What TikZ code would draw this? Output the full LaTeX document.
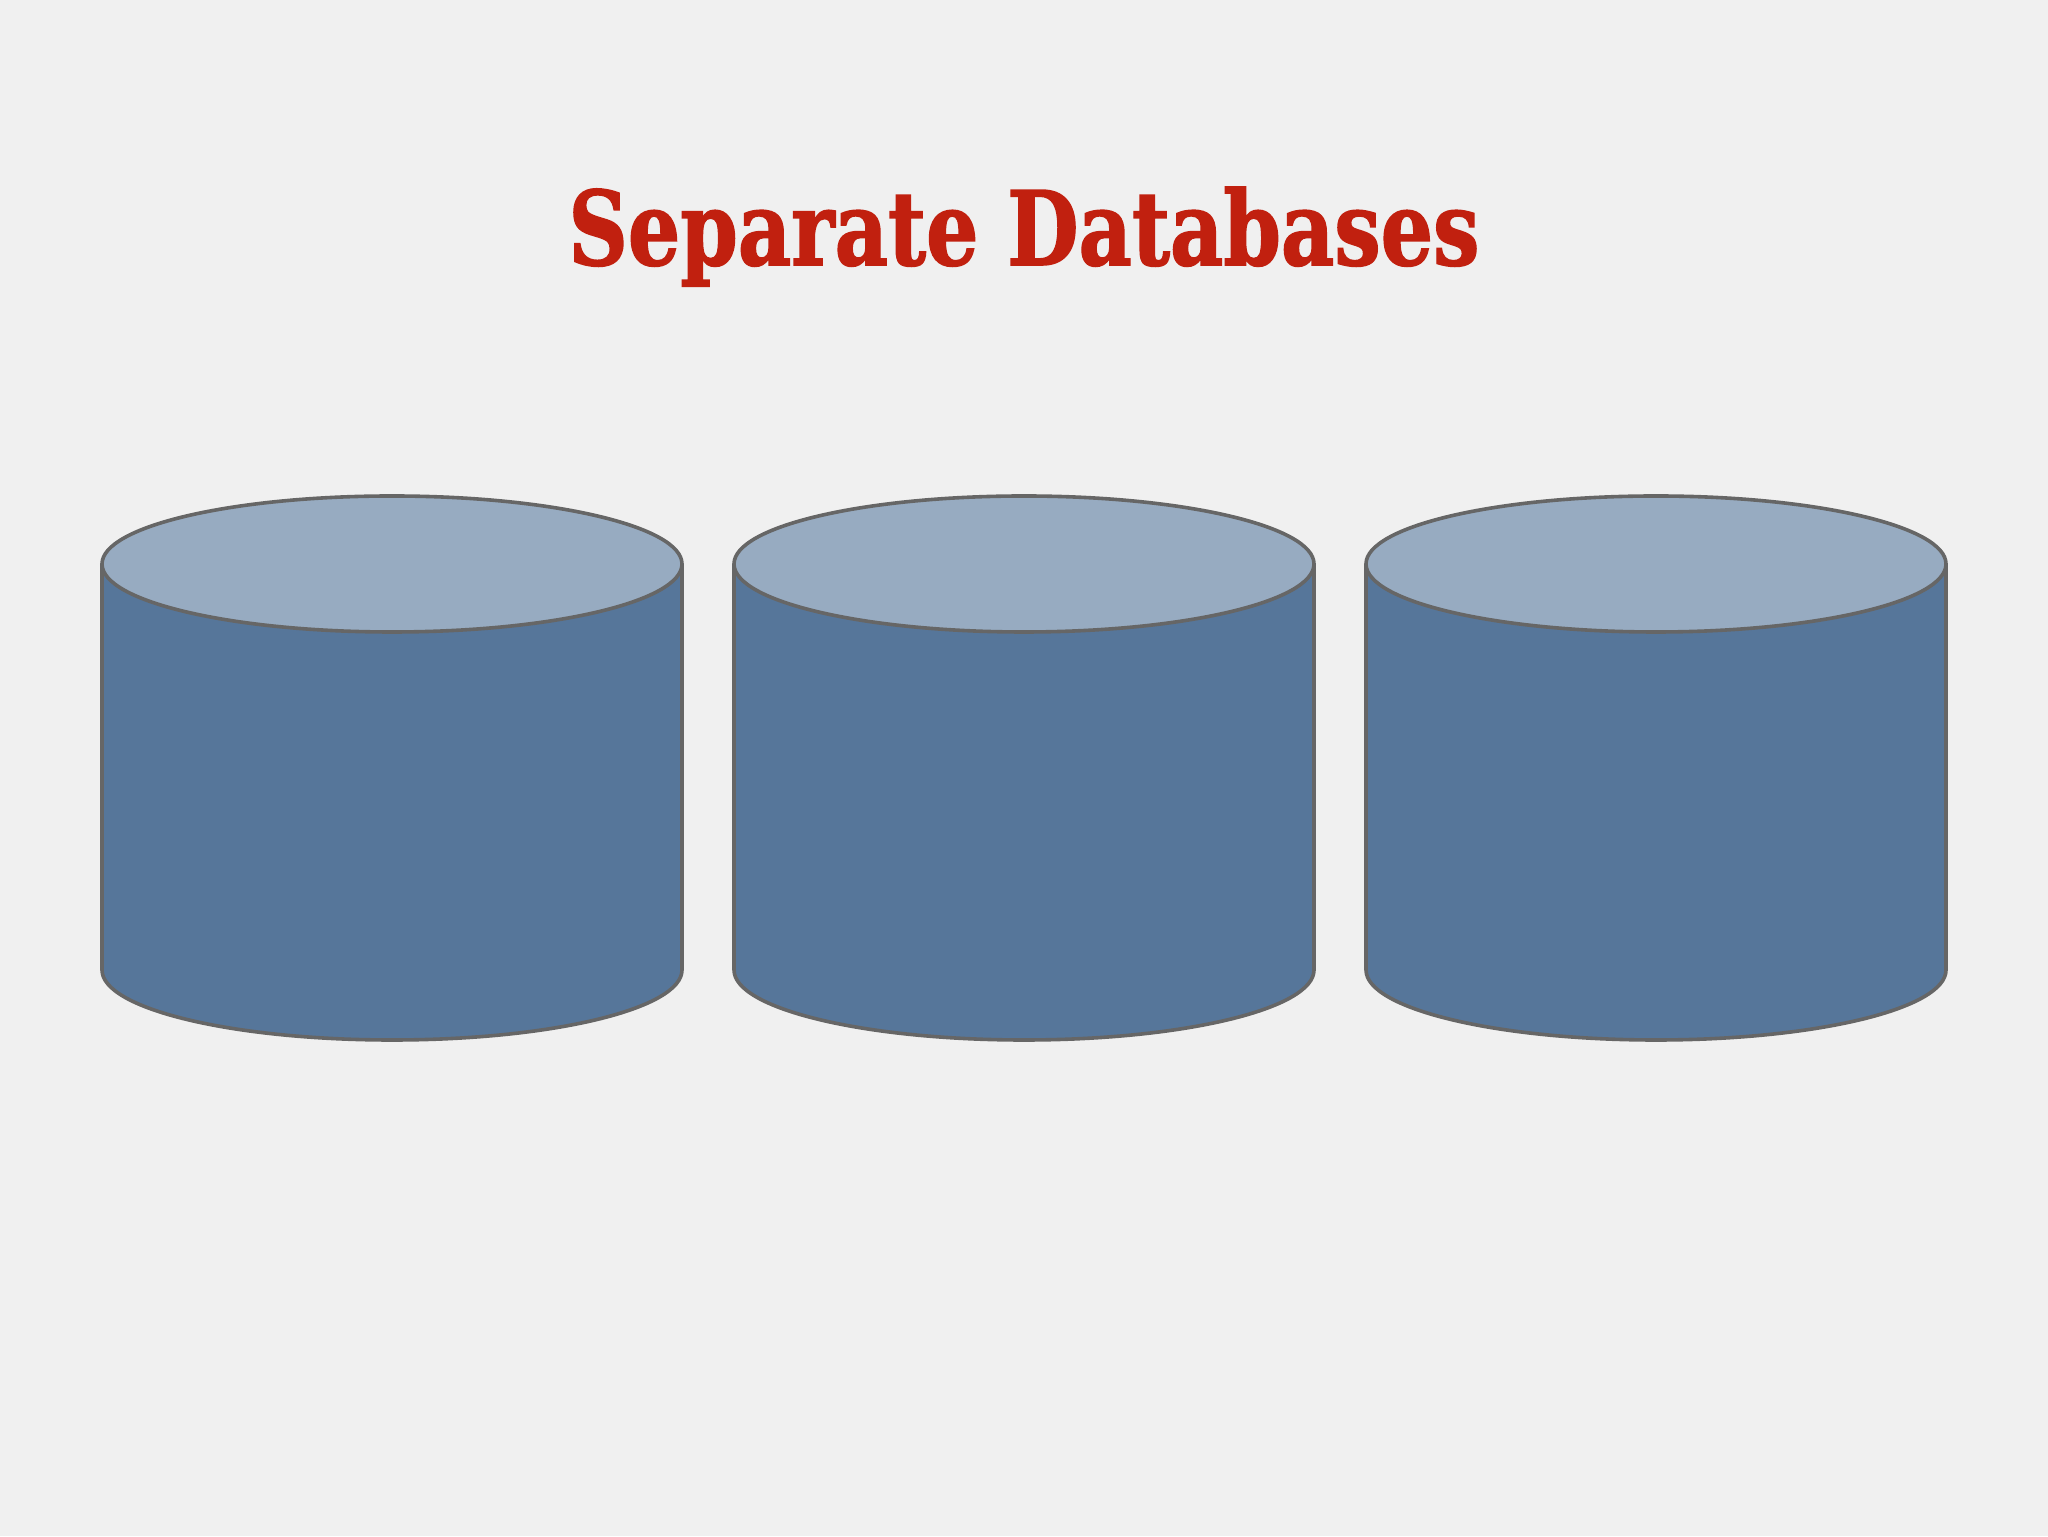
\documentclass[tikz,border=0pt]{standalone}
\usepackage{fontspec}
\usepackage{graphicx}
\newfontfamily\titlefont[BoldFeatures={FakeBold=1.6}]{DejaVu Serif}
\definecolor{bgc}{HTML}{F0F0F0}
\definecolor{bodyc}{HTML}{56769A}
\definecolor{topc}{HTML}{97ABC1}
\definecolor{edgec}{HTML}{666666}
\definecolor{titlec}{HTML}{C1200F}
\tikzset{
  cylbody/.style={fill=bodyc, draw=edgec, line width=1.8pt, line join=round},
  cyltop/.style={fill=topc, draw=edgec, line width=1.8pt},
  titletext/.style={text=titlec, inner sep=0pt, font=\titlefont\bfseries}
}
\begin{document}
\begin{tikzpicture}[x=0.5pt,y=0.5pt]
\fill[bgc] (0,0) rectangle (2048,1536);
\useasboundingbox (0,0) rectangle (2048,1536);
\node[titletext, anchor=base] (title) at (1024,1271) {\resizebox{455.5pt}{39pt}{Separate Databases}};
\foreach \n/\cx in {a/392, b/1024, c/1656}{
  \coordinate (db\n) at (\cx,972);
  \draw[cylbody] ([xshift=-290*0.5pt]db\n) -- ++(0,-406) arc[start angle=180,end angle=360,x radius=290,y radius=70] -- ++(0,406) -- cycle;
  \draw[cyltop] (db\n) ellipse[x radius=290, y radius=68];
}
\end{tikzpicture}
\end{document}
